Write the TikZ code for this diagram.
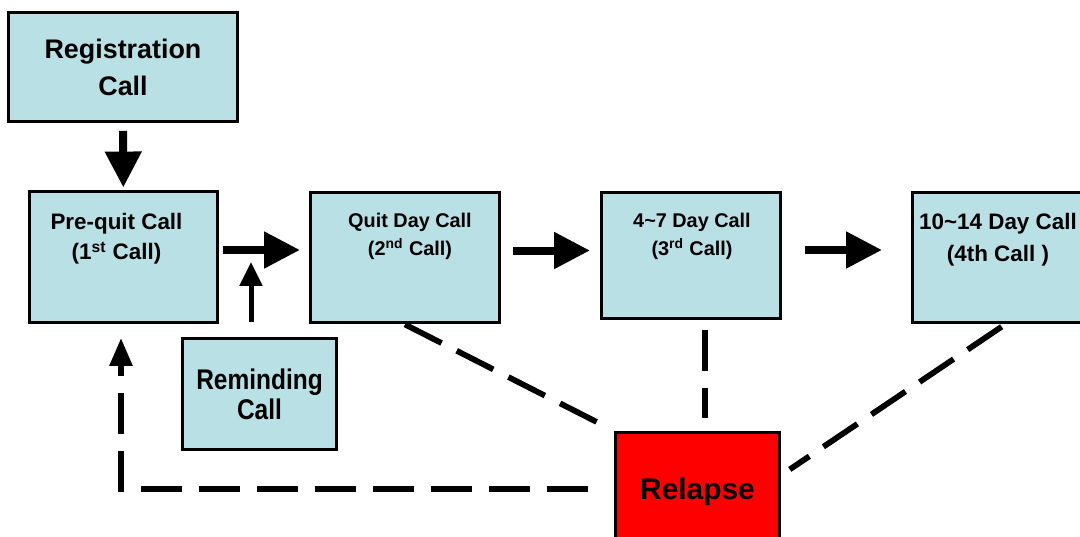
\documentclass[tikz,border=0pt]{standalone}
\usepackage{fontspec}
\setmainfont{Liberation Sans}
\newfontfamily\narrowsans{Liberation Sans}[FakeStretch=0.86]
\usetikzlibrary{arrows.meta}
\definecolor{callblue}{RGB}{185,224,228}

\begin{document}
\begin{tikzpicture}[x=0.02cm,y=-0.02cm,
    box/.style={draw=black,line width=1.7pt,fill=callblue,inner sep=0pt,align=center},
    calltext/.style={align=center,inner sep=0pt},
    bigarrow/.style={line width=0.16cm,-{Triangle[length=0.72cm,width=0.7cm]}},
    smallarrow/.style={line width=0.1cm,-{Triangle[length=0.48cm,width=0.44cm]}},
    dashline/.style={line width=0.115cm,dash pattern=on 0.82cm off 0.34cm}]
  \useasboundingbox (0,0) rectangle (1080,537);
  \clip (0,0) rectangle (1080,537);
  %boxes
  \node (reg) [box,minimum width=4.6cm,minimum height=2.2cm,
    font=\fontsize{15.3pt}{21pt}\selectfont\bfseries] at (123,67) {Registration\\Call};
  \node (pq) [box,minimum width=3.78cm,minimum height=2.64cm] at (123.5,257) {};
  \node (qd) [box,minimum width=3.8cm,minimum height=2.62cm] at (405,257.5) {};
  \node (d47) [box,minimum width=3.6cm,minimum height=2.54cm] at (691,255.5) {};
  \node (d1014) [box,minimum width=3.72cm,minimum height=2.62cm] at (1005,257.5) {};
  \node (remind) [box,minimum width=3.1cm,minimum height=2.22cm,
    font=\narrowsans\fontsize{16.2pt}{17pt}\selectfont\bfseries] at (259.5,394) {Reminding\\Call};
  \node (relapse) [box,fill=red,minimum width=3.3cm,minimum height=2.4cm,
    font=\fontsize{17pt}{20pt}\selectfont\bfseries] at (697.5,492) {Relapse};
  %texts of the calls
  \node (pqtxt) [calltext,font=\fontsize{12.75pt}{17pt}\selectfont\bfseries]
    at (116.5,239) {Pre-quit Call\\(1\textsuperscript{st} Call)};
  \node (qdtxt) [calltext,font=\fontsize{11.3pt}{15.9pt}\selectfont\bfseries]
    at (410,236) {Quit Day Call\\(2\textsuperscript{nd} Call)};
  \node (d47txt) [calltext,font=\fontsize{11.3pt}{15.9pt}\selectfont\bfseries]
    at (692,236) {4\textasciitilde7 Day Call\\(3\textsuperscript{rd} Call)};
  \node (d1014txt) [calltext,font=\fontsize{12.75pt}{18pt}\selectfont\bfseries]
    at (998,240) {10\textasciitilde14 Day Call\\(4th Call )};
  %solid arrows
  \draw[bigarrow,shorten <=0.15cm,shorten >=0.04cm] (reg) -- (pq);
  \draw[bigarrow,shorten <=0.07cm,shorten >=0.17cm]
    ([yshift=0.14cm]pq.east) -- ([yshift=0.14cm]pq.east -| qd.west);
  \draw[bigarrow,shorten <=0.23cm,shorten >=0.19cm]
    ([yshift=0.14cm]qd.east) -- ([yshift=0.14cm]qd.east -| d47.west);
  \draw[bigarrow,shorten <=0.45cm,shorten >=0.57cm]
    ([yshift=0.11cm]d47.east) -- ([yshift=0.11cm]d47.east -| d1014.west);
  \draw[smallarrow,shorten <=0.31cm,shorten >=0.1cm]
    ([xshift=-0.17cm]remind.north) -- ([xshift=-0.17cm]remind.north |- pq.east);
  %dashed lines to relapse
  \draw[dashline,shorten >=0.38cm] (qd.south) -- (relapse.north west);
  \draw[dashline,shorten <=0.19cm,shorten >=0.25cm]
    ([xshift=0.28cm]d47.south) -- ([xshift=0.28cm]d47.south |- relapse.north);
  \draw[dashline,shorten <=0.08cm,shorten >=0.2cm]
    (d1014.south) -- ([yshift=0.34cm]relapse.east);
  \draw[dashline,-{Triangle[length=0.56cm,width=0.44cm]},shorten <=0.51cm,shorten >=0.27cm]
    ([yshift=0.06cm]relapse.west) -| ([xshift=-0.05cm]pq.south);
\end{tikzpicture}
\end{document}
